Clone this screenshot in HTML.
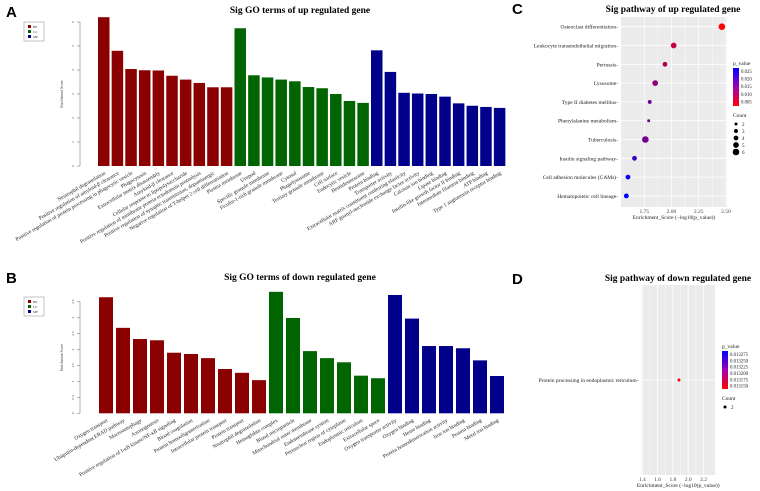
<!DOCTYPE html>
<html><head><meta charset="utf-8"><style>
body{margin:0;background:#fff}
svg{display:block;font-family:"Liberation Serif",serif}
.pl{font-family:"Liberation Sans",sans-serif;font-weight:bold;font-size:15px}
</style></head><body>
<svg id="s" width="760" height="491" viewBox="0 0 760 491">
<text class="pl" x="6" y="17">A</text>
<text class="pl" x="6" y="283">B</text>
<text class="pl" x="512" y="14">C</text>
<text class="pl" x="512" y="284">D</text>
</svg>
<script>
const aLabels=["Neutrophil degranulation","Positive regulation of amyloid-β clearance","Positive regulation of protein processing in phagocytic vesicle","Phagocytosis","Extracellular matrix disassembly","Amyloid-β clearance","Cellular response to lipopolysaccharide","Positive regulation of membrane protein ectodomain proteolysis","Positive regulation of synaptic transmission, dopaminergic","Negative regulation of T-helper 2 cell differentiation","Plasma membrane","Uropod","Specific granule membrane","Ficolin-1-rich granule membrane","Cytosol","Phagolysosome","Tertiary granule membrane","Cell surface","Endocytic vesicle","Hemidesmosome","Protein binding","Transporter activity","Extracellular matrix constituent conferring elasticity","ARF guanyl-nucleotide exchange factor activity","Calcium ion binding","Lipase binding","Insulin-like growth factor II binding","Intermediate filament binding","ATP binding","Type 1 angiotensin receptor binding"];
const aValues=[6.2,4.8,4.04,3.99,3.98,3.76,3.6,3.46,3.28,3.28,5.74,3.78,3.69,3.6,3.53,3.29,3.24,3.0,2.71,2.63,4.82,3.92,3.05,3.02,3.0,2.89,2.61,2.51,2.46,2.42];
const aGroups=["BP","BP","BP","BP","BP","BP","BP","BP","BP","BP","CC","CC","CC","CC","CC","CC","CC","CC","CC","CC","MF","MF","MF","MF","MF","MF","MF","MF","MF","MF"];
const aTicks=[0,1,2,3,4,5,6];
const bLabels=["Oxygen transport","Ubiquitin-dependent ERAD pathway","Macroautophagy","Axonogenesis","Positive regulation of I-κB kinase/NF-κB signaling","Blood coagulation","Protein homooligomerization","Intracellular protein transport","Protein transport","Neutrophil degranulation","Hemoglobin complex","Blood microparticle","Mitochondrial outer membrane","Endomembrane system","Perinuclear region of cytoplasm","Endoplasmic reticulum","Extracellular space","Oxygen transporter activity","Oxygen binding","Heme binding","Protein homodimerization activity","Iron ion binding","Protein binding","Metal ion binding"];
const bValues=[3.64,2.68,2.33,2.29,1.9,1.86,1.73,1.39,1.27,1.04,3.81,2.99,1.95,1.73,1.6,1.18,1.1,3.71,2.97,2.11,2.11,2.04,1.66,1.17];
const bGroups=["BP","BP","BP","BP","BP","BP","BP","BP","BP","BP","CC","CC","CC","CC","CC","CC","CC","MF","MF","MF","MF","MF","MF","MF"];
const bTicks=[0,0.5,1,1.5,2,2.5,3,3.5];
const cPathways=["Osteoclast differentiation","Leukocyte transendothelial migration","Pertussis","Lysosome","Type II diabetes mellitus","Phenylalanine metabolism","Tuberculosis","Insulin signaling pathway","Cell adhesion molecules (CAMs)","Hematopoietic cell lineage"];
const cScores=[2.463,2.02,1.94,1.85,1.8,1.79,1.76,1.66,1.6,1.585];
const cCounts=[6,5,4,5,3,2,6,4,4,4];
const cPvals=[0.004,0.009,0.011,0.014,0.017,0.016,0.016,0.021,0.025,0.026];
const cTicks=[1.75,2.0,2.25,2.5];
const dPathways=["Protein processing in endoplasmic reticulum"];
const dScores=[1.88];
const dCounts=[2];
const dPvals=[0.01315];
const dTicks=[1.4,1.6,1.8,2.0,2.2];

const NS="http://www.w3.org/2000/svg";
const svg=document.getElementById('s');
function el(tag,attrs,parent,txt){const e=document.createElementNS(NS,tag);for(const k in attrs)e.setAttribute(k,attrs[k]);if(txt!==undefined)e.textContent=txt;(parent||svg).appendChild(e);return e;}
const gcol={BP:"#8b0000",CC:"#006400",MF:"#00008b"};

function barPanel(name,labels,values,groups,ticks,title,cfg){
  const g=el('g',{});
  
  
  const y=v=>cfg.y0-(v-ticks[0])/(ticks[ticks.length-1]-ticks[0])*(cfg.y0-cfg.y1);
  const t=el('text',{x:300,y:cfg.ty,'text-anchor':'middle','font-size':9.5,'font-weight':'bold'},g,title);
  
  
  el('line',{x1:cfg.ax,x2:cfg.ax,y1:cfg.y0,y2:cfg.y1,stroke:'#666','stroke-width':0.5},g);
  ticks.forEach(tv=>{
    el('line',{x1:cfg.ax-3,x2:cfg.ax,y1:y(tv),y2:y(tv),stroke:'#666','stroke-width':0.5},g);
    const tl=el('text',{x:cfg.ax-6,y:y(tv),'font-size':3.5,fill:'#444','text-anchor':'middle',transform:`rotate(-90 ${cfg.ax-6} ${y(tv)})`},g,String(tv));
    
    
  });
  const yt=el('text',{x:cfg.ax-17,y:(cfg.y0+cfg.y1)/2,'font-size':3.8,fill:'#444','text-anchor':'middle',transform:`rotate(-90 ${cfg.ax-17} ${(cfg.y0+cfg.y1)/2})`},g,'Enrichment Score');
  
  
  values.forEach((v,i)=>{
    const x=cfg.x0+i*cfg.pitch;
    const r=el('rect',{x:x,y:y(v),width:cfg.bw,height:cfg.y0-y(v),fill:gcol[groups[i]]},g);
    
    
    const cx=x+cfg.bw/2+2, cy=cfg.y0+8;
    const l=el('text',{x:cx,y:cy,'font-size':5.4,fill:'#222','text-anchor':'end',transform:`rotate(-30 ${cx} ${cy})`},g,labels[i]);
    
    
  });
  const lg=el('g',{},g);
  
  
  el('rect',{x:24,y:cfg.ly,width:20,height:19,fill:'#fff',stroke:'#888','stroke-width':0.5},lg);
  ["BP","CC","MF"].forEach((k,j)=>{
    el('rect',{x:28,y:cfg.ly+3+j*5,width:3,height:3,fill:gcol[k]},lg);
    el('text',{x:33,y:cfg.ly+5.8+j*5,'font-size':3.5,fill:'#333'},lg,k);
  });
}
barPanel('chart-up-go',aLabels,aValues,aGroups,aTicks,'Sig GO terms of up regulated gene',{ax:80,y0:166,y1:22,x0:98,pitch:13.65,bw:11.5,ty:13,ly:22});
barPanel('chart-down-go',bLabels,bValues,bGroups,bTicks,'Sig GO terms of down regulated gene',{ax:80,y0:413.3,y1:301.7,x0:99,pitch:17,bw:14,ty:280,ly:297});

function pcol(p,lo,hi){const f=Math.max(0,Math.min(1,(p-lo)/(hi-lo)));return `rgb(${Math.round(255*(1-f))},0,${Math.round(255*f)})`;}
function dotPanel(name,paths,scores,counts,pvals,ticks,title,cfg){
  const g=el('g',{});
  
  
  const x=v=>cfg.px0+(v-cfg.xmin)/(cfg.xmax-cfg.xmin)*(cfg.px1-cfg.px0);
  const t=el('text',{x:cfg.tx,y:cfg.ty,'text-anchor':'middle','font-size':9.5,'font-weight':'bold'},g,title);
  
  
  el('rect',{x:cfg.px0,y:cfg.py0,width:cfg.px1-cfg.px0,height:cfg.py1-cfg.py0,fill:'#ebebeb'},g);
  ticks.forEach((tv,j)=>{
    el('line',{x1:x(tv),x2:x(tv),y1:cfg.py0,y2:cfg.py1,stroke:'#fff','stroke-width':0.8},g);
    if(j<ticks.length-1){const m=x((tv+ticks[j+1])/2);el('line',{x1:m,x2:m,y1:cfg.py0,y2:cfg.py1,stroke:'#fff','stroke-width':0.4},g);}
    const tl=el('text',{x:x(tv),y:cfg.py1+6,'font-size':5.5,fill:'#444','text-anchor':'middle'},g,tv.toFixed(cfg.dec));
    
    
  });
  const xt=el('text',{x:(cfg.px0+cfg.px1)/2,y:cfg.py1+12,'font-size':5.5,fill:'#222','text-anchor':'middle'},g,'Enrichment_Score (−log10(p_value))');
  
  
  paths.forEach((p,i)=>{
    const yy=cfg.ry0+i*cfg.rstep;
    el('line',{x1:cfg.px0,x2:cfg.px1,y1:yy,y2:yy,stroke:'#fff','stroke-width':0.8},g);
    const l=el('text',{x:cfg.px0-3,y:yy+2,'font-size':5.5,fill:'#222','text-anchor':'end'},g,p+'-');
    
    
    const c=el('circle',{cx:x(scores[i]),cy:yy,r:0.6+counts[i]*0.45,fill:pcol(pvals[i],cfg.plo,cfg.phi)},g);
    
    
  });
  const lg=el('g',{},g);
  
  
  const lx=cfg.lx, ly=cfg.ly;
  el('text',{x:lx,y:ly,'font-size':5.5,fill:'#222'},lg,'p_value');
  const gid='gr'+name;
  const d=el('defs',{},lg);const lgd=el('linearGradient',{id:gid,x1:0,y1:0,x2:0,y2:1},d);
  el('stop',{offset:0,'stop-color':'#0000ff'},lgd);el('stop',{offset:0.5,'stop-color':'#a000b0'},lgd);el('stop',{offset:1,'stop-color':'#ff0000'},lgd);
  el('rect',{x:lx,y:ly+3,width:6,height:cfg.cbh,fill:`url(#${gid})`},lg);
  cfg.cbl.forEach((s,j)=>el('text',{x:lx+8,y:ly+7+j*cfg.cbh/ (cfg.cbl.length)+1,'font-size':4.8,fill:'#222'},lg,s));
  const cy0=ly+cfg.cbh+14;
  el('text',{x:lx,y:cy0,'font-size':5.5,fill:'#222'},lg,'Count');
  cfg.cnt.forEach((n,j)=>{el('circle',{cx:lx+3,cy:cy0+7+j*7,r:0.6+n*0.45,fill:'#000'},lg);el('text',{x:lx+9,y:cy0+9+j*7,'font-size':5,fill:'#222'},lg,String(n));});
}
dotPanel('chart-up-pathway',cPathways,cScores,cCounts,cPvals,cTicks,'Sig pathway of up regulated gene',{px0:621,px1:727,py0:17,py1:207,xmin:1.536,xmax:2.51,ry0:26.7,rstep:18.8,tx:673,ty:12,dec:2,plo:0.004,phi:0.026,lx:733,ly:65,cbh:38,cbl:['0.025','0.020','0.015','0.010','0.005'],cnt:[2,3,4,5,6]});
dotPanel('chart-down-pathway',dPathways,dScores,dCounts,dPvals,dTicks,'Sig pathway of down regulated gene',{px0:641.5,px1:715,py0:285,py1:475,xmin:1.39,xmax:2.35,ry0:380,rstep:0,tx:678,ty:281,dec:1,plo:0.01315,phi:0.01328,lx:722,ly:348,cbh:38,cbl:['0.013275','0.013250','0.013225','0.013200','0.013175','0.013150'],cnt:[2]});
</script>
</body></html>
